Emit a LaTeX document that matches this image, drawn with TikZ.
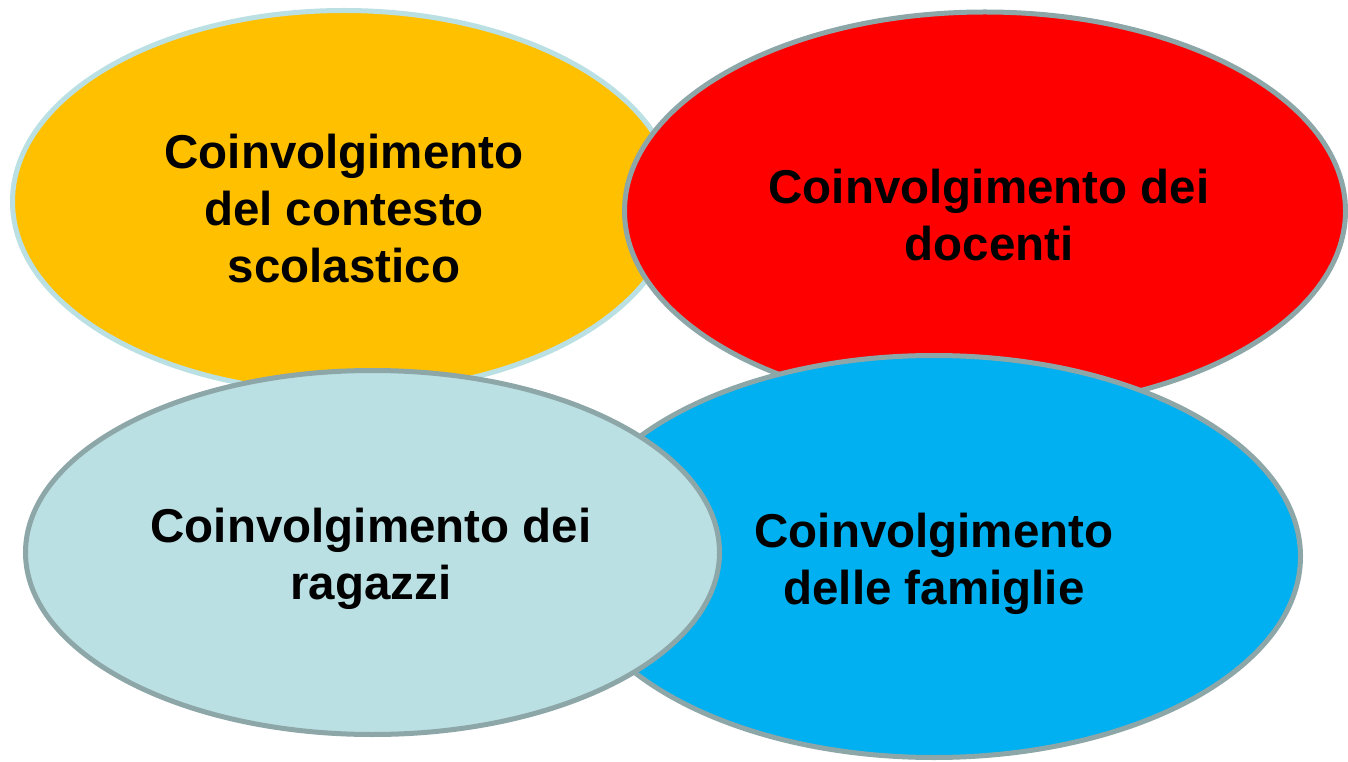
\documentclass[tikz,border=0pt]{standalone}
\usepackage{fontspec}
\setmainfont{Liberation Sans}
\usetikzlibrary{shapes.geometric}
\definecolor{cOrange}{HTML}{FFC000}
\definecolor{cRed}{HTML}{FF0000}
\definecolor{cLight}{HTML}{BBE0E3}
\definecolor{cBlue}{HTML}{00B0F0}
\definecolor{cEdge}{HTML}{8DA6A8}
\tikzset{
  blob/.style={ellipse, inner sep=0pt, outer sep=0pt, line width=5pt},
  lbl/.style={align=center, inner sep=0pt, font=\fontsize{47.5}{57}\selectfont\bfseries, text=black}
}
\begin{document}
\begin{tikzpicture}[x=1pt,y=1pt]
\useasboundingbox (0,0) rectangle (1348,761);
\node[blob, fill=cOrange, draw=cLight, minimum width=663pt, minimum height=382pt] (o) at (344,559.5) {};
\node[blob, fill=cRed, draw=cEdge, minimum width=721pt, minimum height=398pt] (r) at (985,550) {};
\node[blob, fill=cBlue, draw=cEdge, minimum width=733pt, minimum height=402pt] (b) at (934,204.5) {};
\node[blob, fill=cLight, draw=cEdge, minimum width=694pt, minimum height=364pt] (l) at (372.5,208.5) {};
\node[lbl] (to) at (344,552.5) {Coinvolgimento\\del contesto\\scolastico};
\node[lbl] (tr) at (989,545.5) {Coinvolgimento dei\\docenti};
\node[lbl] (tl) at (371,202.5) {Coinvolgimento dei\\ragazzi};
\node[lbl] (tb) at (934,197.5) {Coinvolgimento\\delle famiglie};
\end{tikzpicture}
\end{document}
